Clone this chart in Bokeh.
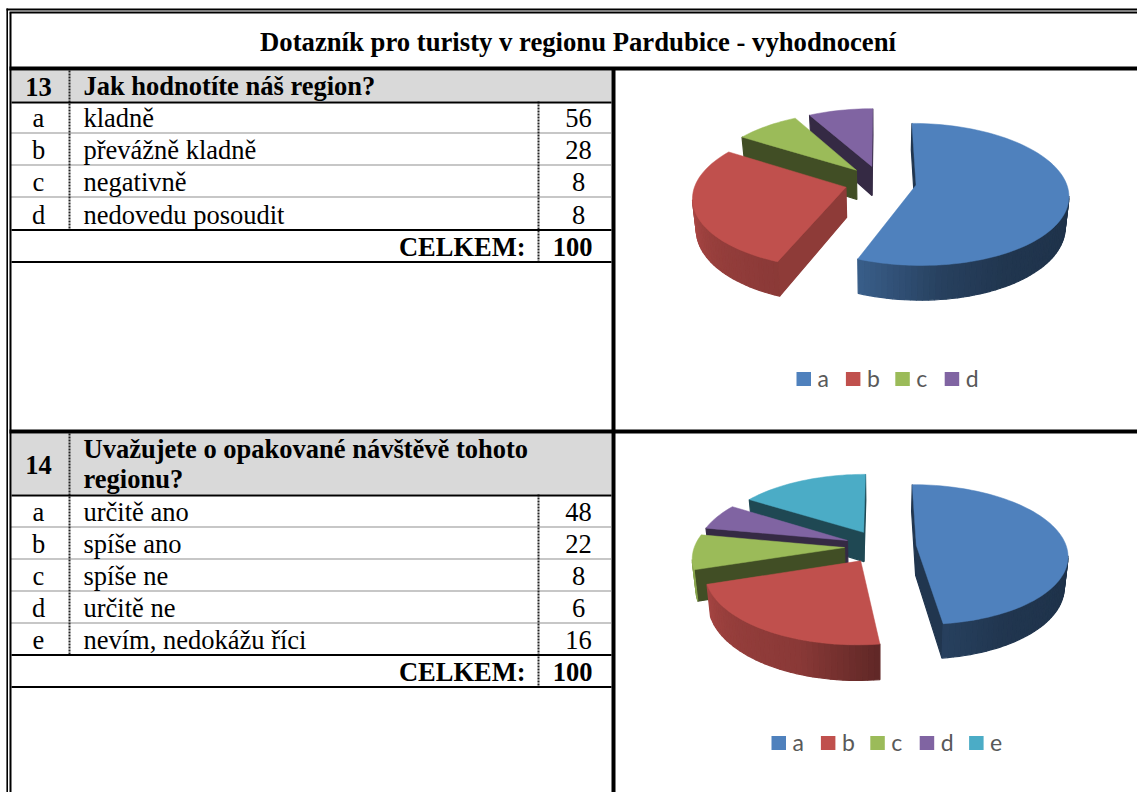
import math
import numpy as np
from bokeh.plotting import figure
from bokeh.models import Range1d
from bokeh.core.properties import value
from bokeh.embed import file_html
from bokeh.resources import INLINE

title = "Dotazník pro turisty v regionu Pardubice - vyhodnocení"
q13_no = "13"
q13_text = ["Jak hodnotíte náš region?"]
q13_letters = ["a", "b", "c", "d"]
q13_labels = ["kladně", "převážně kladně", "negativně", "nedovedu posoudit"]
q13_values = [56, 28, 8, 8]
q14_no = "14"
q14_text = ["Uvažujete o opakované návštěvě tohoto", "regionu?"]
q14_letters = ["a", "b", "c", "d", "e"]
q14_labels = ["určitě ano", "spíše ano", "spíše ne", "určitě ne", "nevím, nedokážu říci"]
q14_values = [48, 22, 8, 6, 16]
total_label = "CELKEM:"
total_13 = 100
total_14 = 100

W, H = 1137, 792
SERIF = value("Liberation Serif")
TOPC = ["#4f81bd", "#c0504d", "#9bbb59", "#8064a2", "#4bacc6"]
RADIAL = [0.42, 0.74, 0.42, 0.42, 0.42]
FS = 26.5

p = figure(width=W, height=H, x_range=Range1d(0, W), y_range=Range1d(H, 0),
           x_axis_location=None, y_axis_location=None, toolbar_location=None,
           output_backend="svg", min_border=0, outline_line_color=None)
p.grid.visible = False


def hline(y, x0, x1, w=1.0, dash="solid", color="black"):
    p.line([x0, x1], [y, y], line_width=w, line_color=color, line_dash=dash)


def vline(x, y0, y1, w=1.0, dash="solid", color="black"):
    p.line([x, x], [y0, y1], line_width=w, line_color=color, line_dash=dash)


def txt(x, y, s, size, bold=False, align="left", color="#000000", font=SERIF):
    p.text([x], [y], text=[s], text_font=font, text_font_size=f"{size}px",
           text_font_style="bold" if bold else "normal", text_align=align,
           text_baseline="middle", text_color=color)


def shade(c, f):
    r, g, b = int(c[1:3], 16), int(c[3:5], 16), int(c[5:7], 16)
    return "#%02x%02x%02x" % (int(r * f), int(g * f), int(b * f))


def pie(vals, cx, cy, legend_x, legend_y, letters):
    rx, ry, k, depth, e = 150.0, 69.0, 0.13, 30.0, 0.24

    def pt(X, Y, low=False):
        f = 1 / (1 + k * Y)
        sx = rx * X * f * (0.98 if low else 1.0)
        sy = -ry * Y * f + (depth * f if low else 0)
        return cx + sx, cy + sy

    tot = sum(vals)
    slices, start = [], 0.0
    for i, v in enumerate(vals):
        end = start + 360.0 * v / tot
        mid = math.radians((start + end) / 2)
        slices.append((e * math.cos(mid), i, start, end, e * math.sin(mid)))
        start = end
    for ay, i, t0, t1, ax in sorted(slices, reverse=True):
        ts = np.linspace(t0, t1, max(3, int((t1 - t0) / 2) + 1))
        arc = [(ax + math.sin(math.radians(t)), ay + math.cos(math.radians(t))) for t in ts]
        xs, ys, cols = [], [], []
        for a_, b_ in (((ax, ay), arc[0]), (arc[-1], (ax, ay))):
            if pt(*b_)[0] < pt(*a_)[0]:
                q = [pt(*a_), pt(*b_), pt(*b_, True), pt(*a_, True)]
                xs.append([c[0] for c in q]); ys.append([c[1] for c in q])
                cols.append(shade(TOPC[i], RADIAL[i]))
        for j in range(len(arc) - 1):
            a_, b_ = arc[j], arc[j + 1]
            if pt(*b_)[0] < pt(*a_)[0]:
                q = [pt(*a_), pt(*b_), pt(*b_, True), pt(*a_, True)]
                xs.append([c[0] for c in q]); ys.append([c[1] for c in q])
                tm = (ts[j] + ts[j + 1]) / 2
                cols.append(shade(TOPC[i], float(np.interp(tm, [90, 150, 173, 200, 230, 265, 360],
                                                           [0.38, 0.42, 0.5, 0.72, 0.78, 0.9, 0.9]))))
        if xs:
            p.patches(xs, ys, fill_color=cols, line_color=cols, line_width=1.2)
        top = [pt(ax, ay)] + [pt(*a_) for a_ in arc]
        p.patch([c[0] for c in top], [c[1] for c in top], fill_color=TOPC[i],
                line_color=TOPC[i], line_width=0.5)
    for i, s in enumerate(letters):
        x0 = legend_x + i * 49.4
        p.quad(left=[x0], right=[x0 + 14.5], top=[legend_y - 7], bottom=[legend_y + 7],
               fill_color=TOPC[i], line_color=None)
        txt(x0 + 21, legend_y - 1, s, 23, color="#595959", font=value("Lato"))


def table(no, head, letters, labels, vals, total, y_top, y_rows):
    p.quad(left=[11], right=[611], top=[y_top], bottom=[y_rows[0]], fill_color="#d9d9d9", line_color=None)
    vline(69, y_top, y_rows[-2], 2, "2 1", "#222222")
    vline(538, y_rows[0], y_rows[-1], 2, "2 1", "#222222")
    hline(y_rows[0] + 1, 11, 611, 2)
    for y in y_rows[1:-2]:
        hline(y, 11, 611, 1.2, "1 1", "#222222")
    hline(y_rows[-2], 11, 611, 2)
    hline(y_rows[-1], 11, 611, 2)
    hc = (y_top + y_rows[0]) / 2
    txt(38, hc + 0.5, no, FS, True, "center")
    lh = 30
    for i, s in enumerate(head):
        txt(83, hc + (i - (len(head) - 1) / 2) * lh, s, FS, True)
    for i, (l, lab, v) in enumerate(zip(letters, labels, vals)):
        yc = (y_rows[i] + y_rows[i + 1]) / 2 + 1
        txt(38, yc, l, FS, False, "center")
        txt(83, yc, lab, FS)
        txt(578, yc, str(v), FS, False, "center")
    yc = (y_rows[-2] + y_rows[-1]) / 2 + 1
    txt(525, yc, total_label, FS, True, "right")
    txt(572, yc, str(total), FS, True, "center")


pie(q13_values, 880, 181.5, 796, 378.5, q13_letters)
pie(q14_values, 880, 546, 771, 742.5, q14_letters)
table(q13_no, q13_text, q13_letters, q13_labels, q13_values, total_13, 70, [101, 132.5, 164.5, 196.5, 229.5, 261.5])
table(q14_no, q14_text, q14_letters, q14_labels, q14_values, total_14, 433, [494, 526.5, 558.5, 590.5, 622.5, 654.5, 686.5])

for x, w in ((6.7, 1.6), (10, 2)):
    vline(x, 8 if x < 8 else 12, H, w)
hline(9, 6, W, 2)
hline(12, 9, W, 2)
hline(68, 9, W, 4)
hline(431, 9, W, 4)
vline(613, 68, H, 4)
txt(577.5, 41, title, 26.7, True, "center")

open("out.html", "w").write(file_html(p, INLINE))
